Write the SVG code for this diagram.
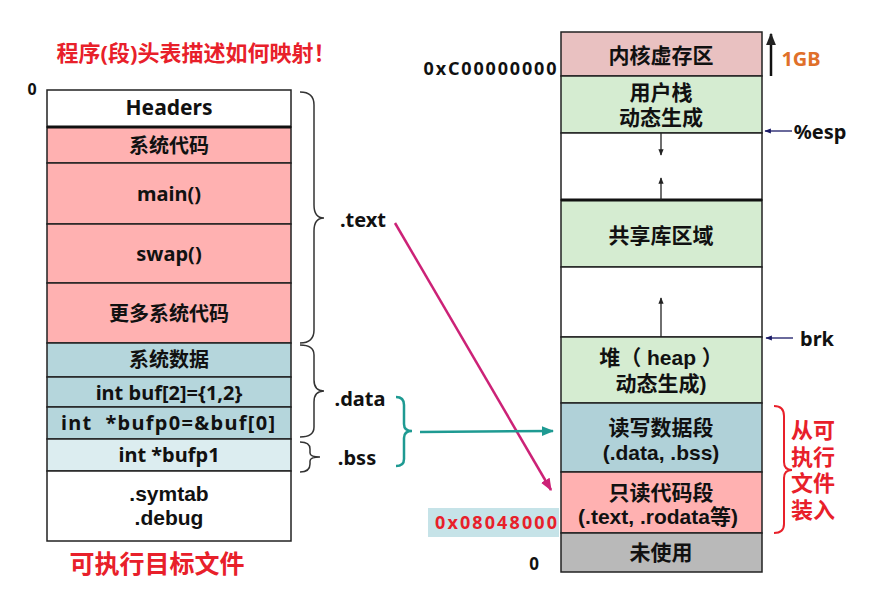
<svg xmlns="http://www.w3.org/2000/svg" width="888" height="611" viewBox="0 0 888 611">
<defs>
<style>
text{font-family:"Noto Sans","Noto Sans CJK SC",sans-serif;font-weight:bold;text-anchor:middle;dominant-baseline:central}
.m{font-family:"Liberation Sans","Noto Sans CJK SC",sans-serif}
.box{stroke:#222;stroke-width:1.5}
.t{font-size:20px;fill:#111}
.r{font-size:21px;fill:#111}
.red{fill:#e8202a}
.pink{fill:#ffb1b1}
.blue{fill:#b5d6dc}
.lblue{fill:#dcedf0}
.green{fill:#d5ecd1}
.white{fill:#fff}
.brace{fill:none;stroke:#333;stroke-width:1.5}
</style>
<marker id="mk" viewBox="0 0 10 10" refX="9" refY="5" markerWidth="5" markerHeight="5" orient="auto"><path d="M0,1 L10,5 L0,9 z" fill="#222"/></marker>
<marker id="mm" viewBox="0 0 10 10" refX="9" refY="5" markerWidth="5" markerHeight="5" orient="auto"><path d="M0,1 L10,5 L0,9 z" fill="#cc2277"/></marker>
<marker id="mt" viewBox="0 0 10 10" refX="9" refY="5" markerWidth="5" markerHeight="5" orient="auto"><path d="M0,1 L10,5 L0,9 z" fill="#1e9a92"/></marker>
<marker id="mb" viewBox="0 0 10 10" refX="9" refY="5" markerWidth="5" markerHeight="5" orient="auto"><path d="M0,1 L10,5 L0,9 z" fill="#1a1a66"/></marker>
</defs>
<rect width="888" height="611" fill="#fff"/>
<text x="196" y="52" class="red" style="font-size:22px">程序(段)头表描述如何映射！</text>
<text x="32" y="89" class="t" style="font-size:16px">0</text>

<g id="elf">
<g id="n-headers"><rect x="47" y="90" width="244" height="37" class="box white"/><text x="169" y="107" class="t" style="font-size:21px">Headers</text></g>
<g id="n-syscode"><rect x="47" y="127" width="244" height="36" class="box pink"/><text x="169" y="145" class="t">系统代码</text></g>
<g id="n-main"><rect x="47" y="163" width="244" height="61" class="box pink"/><text x="169" y="193" class="t">main()</text></g>
<g id="n-swap"><rect x="47" y="224" width="244" height="59" class="box pink"/><text x="169" y="253" class="t">swap()</text></g>
<g id="n-moresys"><rect x="47" y="283" width="244" height="60" class="box pink"/><text x="169" y="313" class="t">更多系统代码</text></g>
<g id="n-sysdata"><rect x="47" y="343" width="244" height="34" class="box blue"/><text x="169" y="359" class="t">系统数据</text></g>
<g id="n-buf"><rect x="47" y="377" width="244" height="30" class="box blue"/><text x="169" y="392" class="t">int buf[2]={1,2}</text></g>
<g id="n-bufp0"><rect x="47" y="407" width="244" height="32" class="box blue"/><text x="168" y="422" class="t" textLength="214" lengthAdjust="spacing" style="white-space:pre">int  *bufp0=&amp;buf[0]</text></g>
<g id="n-bufp1"><rect x="47" y="439" width="244" height="32" class="box lblue"/><text x="169" y="454" class="t">int *bufp1</text></g>
<g id="n-symtab"><rect x="47" y="471" width="244" height="70" class="box white"/><text class="t m" style="font-size:21px"><tspan x="169" y="493">.symtab</tspan><tspan x="169" y="517">.debug</tspan></text></g>
<line x1="47" y1="127" x2="291" y2="127" stroke="#111" stroke-width="3"/>
</g>
<text x="157" y="563" class="red" style="font-size:25px">可执行目标文件</text>

<g id="braces">
<path class="brace" d="M300,92 Q314,92 314,105 L314,205 Q314,218 324,218 Q314,218 314,231 L314,330 Q314,343 300,343"/>
<text x="363" y="219" class="t">.text</text>
<path class="brace" d="M300,345 Q314,345 314,355 L314,380 Q314,391 324,391 Q314,391 314,402 L314,427 Q314,437 300,437"/>
<text x="360" y="398" class="t">.data</text>
<path class="brace" d="M300,442 Q310,442 310,449 L310,453 Q310,457 320,457 Q310,457 310,461 L310,464 Q310,472 300,472"/>
<text x="357" y="457" class="t">.bss</text>
<path d="M396,397 Q404,397 404,405 L404,424 Q404,431 412,431 Q404,431 404,438 L404,459 Q404,466 396,466" fill="none" stroke="#1e9a92" stroke-width="2.5"/>
<path d="M774,406 Q784,406 784,416 L784,462 Q784,470 792,470 Q784,470 784,478 L784,524 Q784,533 774,533" fill="none" stroke="#e8202a" stroke-width="2"/>
</g>

<g id="vm">
<g id="n-kernel"><rect x="561" y="32" width="201" height="44" class="box" fill="#e9c1c1"/><text x="661" y="55" class="r">内核虚存区</text></g>
<g id="n-stack"><rect x="561" y="76" width="201" height="57" class="box green"/><text class="r m"><tspan x="661" y="92">用户栈</tspan><tspan x="661" y="117">动态生成</tspan></text></g>
<g id="n-gap1"><rect x="561" y="133" width="201" height="67" class="box white"/></g>
<g id="n-shared"><rect x="561" y="200" width="201" height="67" class="box green"/><text x="661" y="235" class="r">共享库区域</text></g>
<g id="n-gap2"><rect x="561" y="267" width="201" height="70" class="box white"/></g>
<g id="n-heap"><rect x="561" y="337" width="201" height="66" class="box green"/><text class="r m"><tspan x="661" y="357">堆（ heap ）</tspan><tspan x="661" y="383">动态生成)</tspan></text></g>
<g id="n-rw"><rect x="561" y="403" width="201" height="69" class="box" fill="#b0d1d8"/><text class="r m"><tspan x="661" y="427">读写数据段</tspan><tspan x="661" y="452">(.data, .bss)</tspan></text></g>
<g id="n-ro"><rect x="561" y="472" width="201" height="61" class="box pink"/><text class="r m"><tspan x="661" y="492">只读代码段</tspan><tspan x="658" y="516">(.text, .rodata等)</tspan></text></g>
<g id="n-unused"><rect x="561" y="533" width="201" height="39" class="box" fill="#b9b9b9"/><text x="661" y="552" class="r">未使用</text></g>
<line x1="561" y1="200" x2="762" y2="200" stroke="#111" stroke-width="3"/>
</g>

<text x="490" y="68" class="t" style="font-size:18px" textLength="133" lengthAdjust="spacing">0xC00000000</text>
<rect x="428" y="508" width="131" height="29" fill="#c6e3e8"/>
<text x="496" y="522" style="font-size:18px;fill:#e8202a" textLength="122" lengthAdjust="spacing">0x08048000</text>
<text x="534" y="563" class="t" style="font-size:17px">0</text>
<text x="801" y="58" style="font-size:20px;fill:#e0702a">1GB</text>
<text x="820" y="131" class="t">%esp</text>
<text x="817" y="338" class="t">brk</text>
<text class="red m" style="font-size:22px"><tspan x="813" y="430">从可</tspan><tspan x="813" y="457">执行</tspan><tspan x="813" y="483">文件</tspan><tspan x="813" y="510">装入</tspan></text>

<g id="connectors">
<line x1="661" y1="133" x2="661" y2="155" stroke="#222" stroke-width="1.3" marker-end="url(#mk)"/>
<line x1="661" y1="200" x2="661" y2="178" stroke="#222" stroke-width="1.3" marker-end="url(#mk)"/>
<line x1="661" y1="337" x2="661" y2="298" stroke="#222" stroke-width="1.3" marker-end="url(#mk)"/>
<line x1="771" y1="76" x2="771" y2="34" stroke="#111" stroke-width="2.5" marker-end="url(#mk)"/>
<line x1="792" y1="131" x2="765" y2="131" stroke="#1a1a66" stroke-width="1.3" marker-end="url(#mb)"/>
<line x1="793" y1="338" x2="766" y2="338" stroke="#1a1a66" stroke-width="1.3" marker-end="url(#mb)"/>
<line x1="395" y1="223" x2="551" y2="490" stroke="#cc2277" stroke-width="2.5" marker-end="url(#mm)"/>
<line x1="420" y1="432" x2="553" y2="431" stroke="#1e9a92" stroke-width="2.5" marker-end="url(#mt)"/>
</g>
</svg>
